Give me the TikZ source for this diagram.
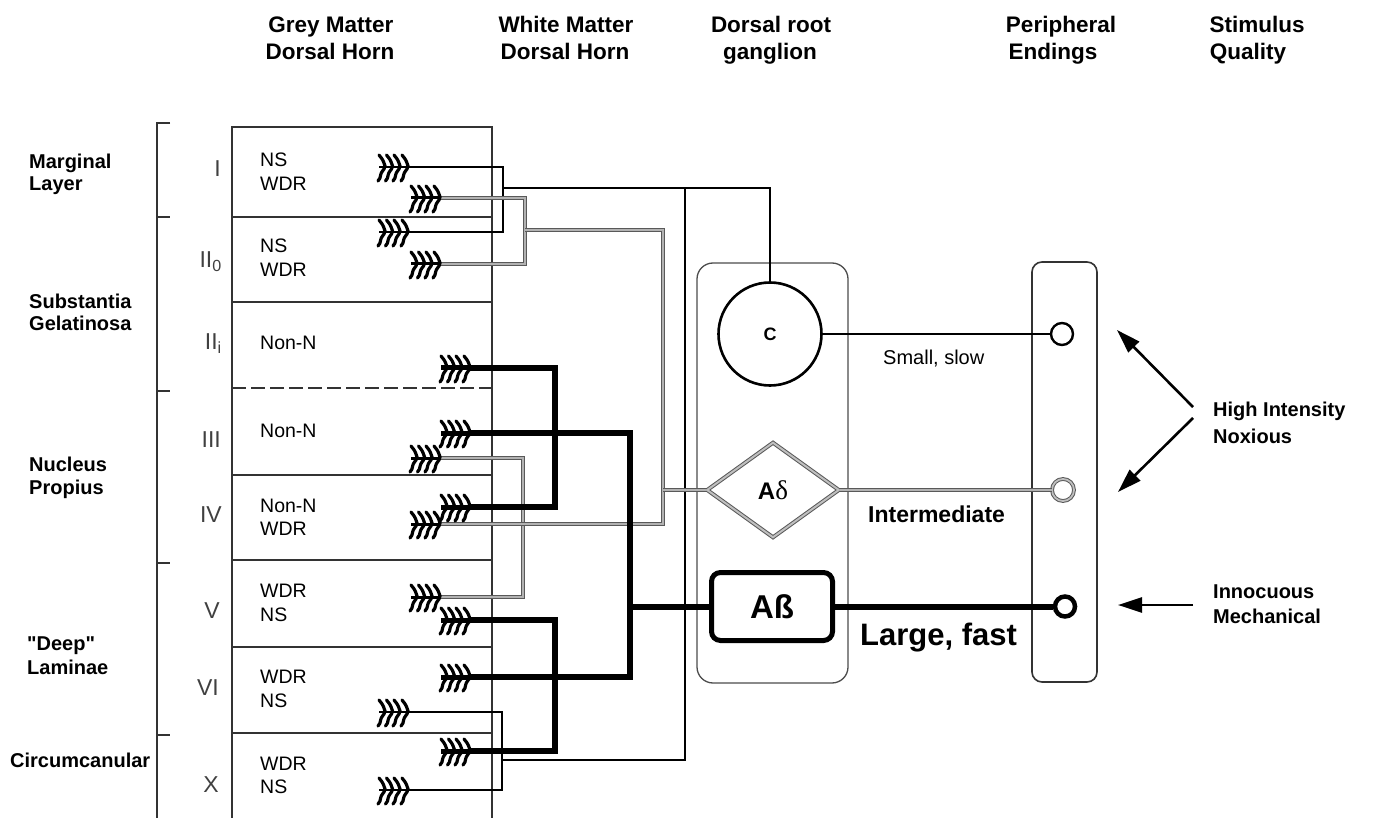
\documentclass[tikz,border=0pt]{standalone}
\usepackage{fontspec}
\setmainfont{Liberation Sans}
\newfontfamily\rawsans{Liberation Sans}
\newfontfamily\serifgr{Liberation Serif}
\usetikzlibrary{shapes.geometric,arrows.meta}
\tikzset{
 lam/.style={draw=black!80, line width=1.4pt},
 cfib/.style={line width=2.4pt, draw=black, line join=miter},
 bfib/.style={line width=6pt, draw=black, line join=miter},
 dfib/.style={draw=black!65, double=black!30, double distance=1.8pt, line width=1.1pt, line join=miter},
 hdr/.style={font=\fontsize{22.5}{27}\selectfont\bfseries, anchor=base, inner sep=0pt},
 zone/.style={font=\fontsize{20}{24}\selectfont\bfseries, anchor=base west, inner sep=0pt},
 cell/.style={font=\fontsize{19.5}{23}\selectfont, anchor=base west, inner sep=0pt},
 numl/.style={font=\fontsize{23}{27}\selectfont, anchor=base east, text=black!75, inner sep=0pt},
 stimtxt/.style={font=\fontsize{20}{24}\selectfont\bfseries, anchor=base west, inner sep=0pt},
 stim/.style={line width=2.6pt, -{Triangle[length=24pt,width=15pt]}},
 pics/syn/.style={code={
   \draw[line width=3.2pt, line cap=round, line join=round] foreach \d in {-23,-15.5,-8,0} {
     (\d-6,-12) .. controls (\d-2,-7) .. (\d,-1) -- (\d-1,2) .. controls (\d-4,6) .. (\d-5,11) -- (\d-7,14) };
   \draw[line width=#1] (-29,0) -- (0,0);
 }},
}
\begin{document}
\begin{tikzpicture}[x=1pt,y=-1pt]
\useasboundingbox (0,0) rectangle (1374,818);
\fill[white] (0,0) rectangle (1374,818);

% headers
\node[hdr] (h1a) at (331,33) {Grey Matter};
\node[hdr] (h1b) at (330,60) {Dorsal Horn};
\node[hdr] (h2a) at (566,33) {White Matter};
\node[hdr] (h2b) at (565,60) {Dorsal Horn};
\node[hdr] (h3a) at (771,33) {Dorsal root};
\node[hdr] (h3b) at (770,60) {ganglion};
\node[hdr] (h4a) at (1061,33) {Peripheral};
\node[hdr] (h4b) at (1053,60) {Endings};
\node[hdr] (h5a) at (1257,33) {Stimulus};
\node[hdr] (h5b) at (1248,60) {Quality};

% zone labels
\node[zone] (z1a) at (29,169) {Marginal};
\node[zone] (z1b) at (29,191) {Layer};
\node[zone] (z2a) at (29,309) {Substantia};
\node[zone] (z2b) at (29,331) {Gelatinosa};
\node[zone] (z3a) at (29,471) {Nucleus};
\node[zone] (z3b) at (29,494) {Propius};
\node[zone] (z4a) at (27,650) {\rawsans\bfseries "Deep"};
\node[zone] (z4b) at (27,674) {Laminae};
\node[zone] (z5) at (10,767) {Circumcanular};

% bracket
\draw[lam] (170,123) -- (157,123) -- (157,818);
\foreach \y in {217,391,563,735} \draw[lam] (157,\y) -- (170,\y);

% laminae box
\draw[lam] (232,818) -- (232,127) -- (492,127) -- (492,818);
\foreach \y in {217,302,475,560,647,733} \draw[lam] (232,\y) -- (492,\y);
\draw[lam, dash pattern=on 14pt off 5pt] (232,388) -- (492,388);

% numerals
\node[numl] (nI) at (221,177) {I};
\node[numl] (nII0) at (222,268) {II\textsubscript{0}};
\node[numl] (nIIi) at (222,350) {II\textsubscript{i}};
\node[numl] (nIII) at (221,447) {III};
\node[numl] (nIV) at (222,522) {IV};
\node[numl] (nV) at (220,618) {V};
\node[numl] (nVI) at (219,695) {VI};
\node[numl] (nX) at (219,792) {X};

% cell types
\node[cell] (t1) at (260,167) {NS};
\node[cell] (t2) at (260,191) {WDR};
\node[cell] (t3) at (260,253) {NS};
\node[cell] (t4) at (260,277) {WDR};
\node[cell] (t5) at (260,350) {Non-N};
\node[cell] (t6) at (260,437) {Non-N};
\node[cell] (t7) at (260,512) {Non-N};
\node[cell] (t8) at (260,535) {WDR};
\node[cell] (t9) at (260,597) {WDR};
\node[cell] (t10) at (260,621) {NS};
\node[cell] (t11) at (260,683) {WDR};
\node[cell] (t12) at (260,707) {NS};
\node[cell] (t13) at (260,770) {WDR};
\node[cell] (t14) at (260,793) {NS};

% ganglion and periphery
\node[draw=black!70, line width=1.3pt, rounded corners=16pt, minimum width=151pt, minimum height=420pt, inner sep=0pt] (gang) at (772.5,473) {};
\node[draw=black!80, line width=1.6pt, rounded corners=10pt, minimum width=65pt, minimum height=420pt, inner sep=0pt] (per) at (1064.5,472) {};

\node[circle, draw, line width=2.6pt, minimum size=103pt, inner sep=0pt, font=\fontsize{18}{21}\selectfont\bfseries] (C) at (770,334) {C};
\node[diamond, draw=black!65, double=black!25, double distance=2pt, line width=1pt, minimum width=132pt, minimum height=95pt, inner sep=0pt, font=\fontsize{24}{28}\selectfont\bfseries] (D) at (773,490) {A{\serifgr\mdseries\fontsize{27}{28}\selectfont δ}};
\node[draw, line width=5pt, rounded corners=9pt, minimum width=121pt, minimum height=68pt, inner sep=0pt, font=\fontsize{33}{36}\selectfont\bfseries] (B) at (772,606.5) {Aß};

\node[circle, draw, line width=2.4pt, minimum size=22pt, inner sep=0pt] (pC) at (1062,334) {};
\node[circle, draw=black!65, double=black!25, double distance=1.8pt, line width=1pt, minimum size=22pt, inner sep=0pt] (pD) at (1063,490) {};
\node[circle, draw, line width=4.5pt, minimum size=20pt, inner sep=0pt] (pB) at (1065,606.5) {};

\draw[cfib] (C) -- (pC);
\draw[dfib] (D) -- (pD);
\draw[bfib] (B) -- (pB);

\node[font=\fontsize{20}{24}\selectfont, anchor=base west, inner sep=0pt] (lsmall) at (883,365) {Small, slow};
\node[font=\fontsize{23}{27}\selectfont\bfseries, anchor=base west, inner sep=0pt] (linter) at (868,522) {Intermediate};
\node[font=\fontsize{31}{35}\selectfont\bfseries, anchor=base west, inner sep=0pt] (llarge) at (860,645) {Large, fast};

% stimulus
\node[stimtxt] (s1a) at (1213,417) {High Intensity};
\node[stimtxt] (s1b) at (1213,443) {Noxious};
\node[stimtxt] (s2a) at (1213,598) {Innocuous};
\node[stimtxt] (s2b) at (1213,623) {Mechanical};
\coordinate (a1s) at (1193,407); \coordinate (a1e) at (1117,330);
\coordinate (a2s) at (1193,418); \coordinate (a2e) at (1118,492);
\coordinate (a3s) at (1193,605); \coordinate (a3e) at (1118,605);
\draw[stim] (a1s) -- (a1e);
\draw[stim] (a2s) -- (a2e);
\draw[stim] (a3s) -- (a3e);

% C fibre terminals
\coordinate (cI) at (408,167); \coordinate (cII) at (408,232);
\coordinate (cVI) at (408,712); \coordinate (cX) at (408,790);
\coordinate (cj1) at (503,188); \coordinate (cv) at (685,188); \coordinate (cj2) at (502,760);
\draw[cfib] (cI) -| (cj1) |- (cII);
\draw[cfib] (cj1) -| (C.north);
\draw[cfib] (cv) |- (cj2);
\draw[cfib] (cVI) -| (cj2) |- (cX);

% A-delta terminals
\coordinate (gI) at (440,198); \coordinate (gII) at (440,264);
\coordinate (gIII) at (440,458); \coordinate (gIV) at (440,524); \coordinate (gV) at (440,597);
\coordinate (gj1) at (525,230); \coordinate (gv) at (663,230); \coordinate (gj2) at (523,524);
\draw[dfib] (gI) -| (gj1) |- (gII);
\draw[dfib] (gIII) -| (gj2) |- (gV);
\draw[dfib] (gj1) -- (gv) |- (gIV);
\draw[dfib] (gv |- D.west) -- (D.west);

% A-beta terminals
\coordinate (bIIi) at (470,368); \coordinate (bIII) at (470,433); \coordinate (bIV) at (470,507);
\coordinate (bV) at (470,620); \coordinate (bVI) at (470,677); \coordinate (bX) at (470,751);
\coordinate (bj1) at (555,433); \coordinate (bj2) at (555,677); \coordinate (bv) at (630,433);
\draw[bfib] (bIIi) -| (bj1) |- (bIV);
\draw[bfib] (bIII) -- (bv) |- (bVI);
\draw[bfib] (bV) -| (bj2) |- (bX);
\draw[bfib] (bv |- B.west) -- (B.west);

% synapse glyphs
\foreach \p in {cI,cII,cVI,cX} \pic at (\p) {syn=2.4pt};
\foreach \p in {gI,gII,gIII,gIV,gV} \pic at (\p) {syn=3pt};
\foreach \p in {bIIi,bIII,bIV,bV,bVI,bX} \pic at (\p) {syn=5pt};
\end{tikzpicture}
\end{document}
